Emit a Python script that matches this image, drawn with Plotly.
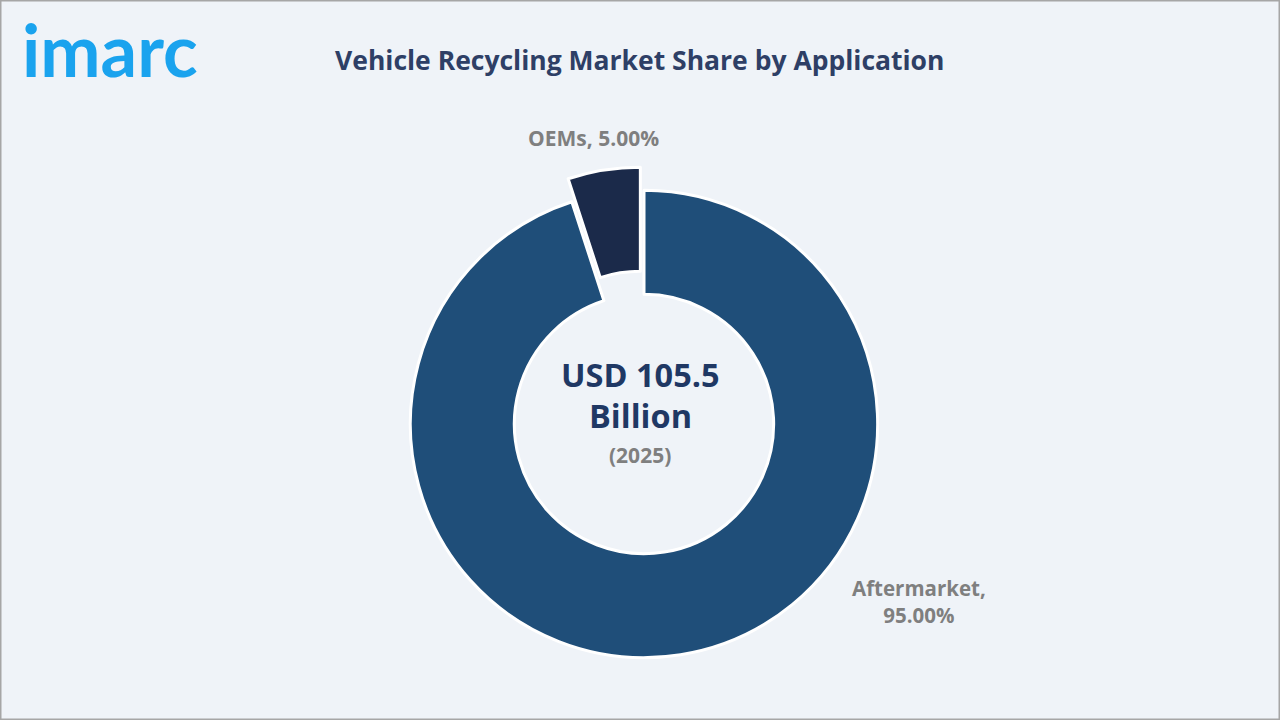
import plotly.graph_objects as go

labels = ["Aftermarket", "OEMs"]
values = [95.0, 5.0]
colors = ["#1F4E79", "#1B2A4A"]
pulls = [0, 0.1]
center_value = "USD 105.5"
center_unit = "Billion"
center_year = "(2025)"
title = "Vehicle Recycling Market Share by Application"

W, H = 1280, 720
BG = "#EFF3F8"
FONT = "Open Sans"


def ann(text, x, y, size, color, family=FONT):
    return dict(text=text, x=x / W, y=1 - y / H, xref="paper", yref="paper",
                xanchor="center", yanchor="middle", showarrow=False,
                font=dict(family=family, size=size, color=color))


fig = go.Figure()
fig.add_trace(go.Pie(
    labels=labels, values=values, hole=0.555, sort=False, direction="clockwise",
    rotation=0, pull=pulls, textinfo="none", hoverinfo="label+percent",
    marker=dict(colors=colors, line=dict(color="white", width=3)),
    domain=dict(x=[387 / W, 901 / W], y=[39 / H, 553 / H]),
    showlegend=False,
))

annotations = [
    ann(f"<b>{title}</b>", 639, 60, 26.5, "#2E3F66"),
    ann("<b>imarc</b>", 110, 49, 72, "#1AA3EE", family="Lato"),
    ann(f"<b>{center_value}</b>", 640, 374, 32.5, "#1F3864"),
    ann(f"<b>{center_unit}</b>", 640, 416, 32.5, "#1F3864"),
    ann(f"<b>{center_year}</b>", 640, 455, 21, "#7F7F7F"),
    ann(f"<b>{labels[1]}, {values[1]:.2f}%</b>", 593, 138, 21, "#7F7F7F"),
    ann(f"<b>{labels[0]},<br>{values[0]:.2f}%</b>", 919, 601, 20.5, "#7F7F7F"),
]

fig.update_layout(
    width=W, height=H, margin=dict(l=0, r=0, t=0, b=0),
    paper_bgcolor=BG, plot_bgcolor=BG,
    annotations=annotations,
    shapes=[dict(type="rect", xref="paper", yref="paper", x0=0, y0=0, x1=1, y1=1,
                 line=dict(color="#A6A6A6", width=3))],
)

fig.write_html("out.html", config={"displayModeBar": False},
               post_script="document.body.style.margin='0';document.body.style.overflow='hidden';")
